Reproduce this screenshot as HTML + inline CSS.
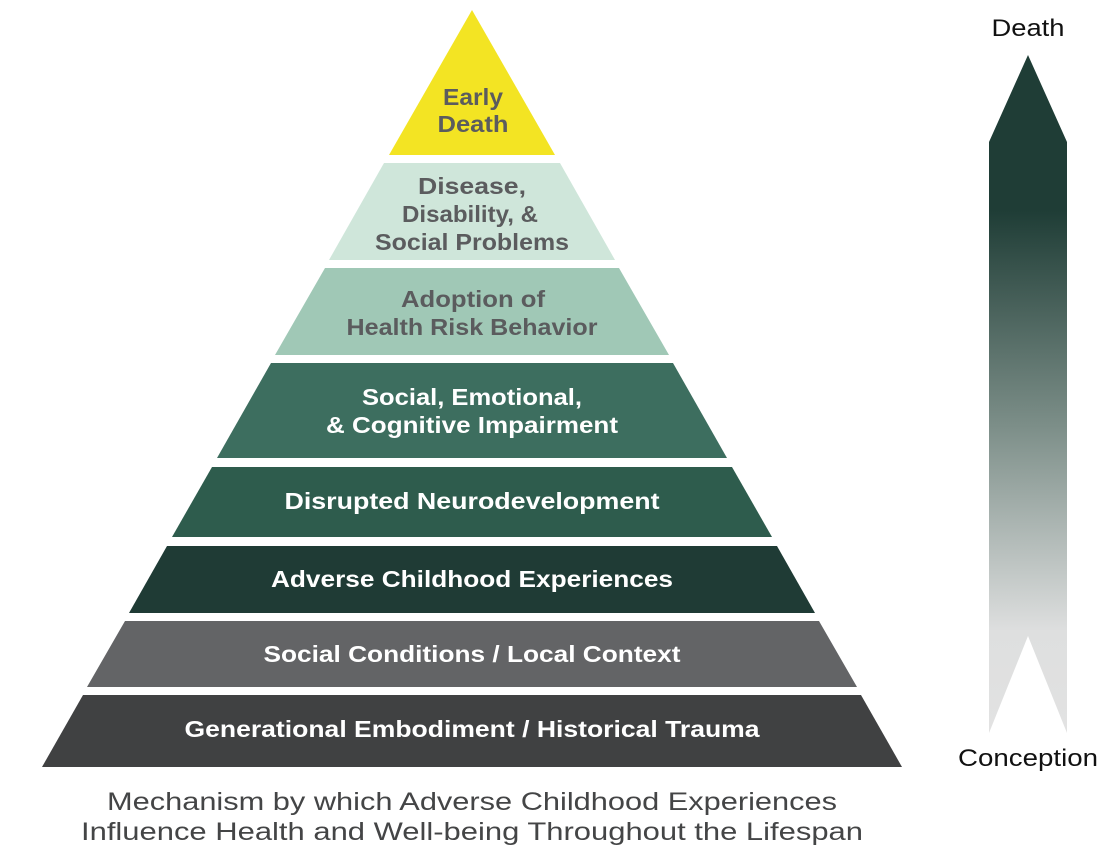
<!DOCTYPE html>
<html><head><meta charset="utf-8"><style>
html,body{margin:0;padding:0;background:#fff;}
svg{display:block;}
.t{font-family:"Liberation Sans",sans-serif;font-weight:bold;font-size:23px;text-anchor:middle;}
.g{fill:#5b5c5e;}
.w{fill:#ffffff;}
</style></head><body>
<svg width="1114" height="850" viewBox="0 0 1114 850">
<defs>
<linearGradient id="ag" x1="0" y1="0" x2="0" y2="1" gradientUnits="objectBoundingBox">
<stop offset="0" stop-color="#1f3d36"/>
<stop offset="0.23" stop-color="#1f3d36"/>
<stop offset="0.55" stop-color="#7d8f89"/>
<stop offset="0.85" stop-color="#dedfdf"/>
<stop offset="1" stop-color="#e2e2e2"/>
</linearGradient>
</defs>
<polygon points="472,10 389,155 555,155" fill="#f3e423"/>
<polygon points="384,163 560,163 615,260 329,260" fill="#cfe6da"/>
<polygon points="325,268 619,268 669,355 275,355" fill="#a0c8b6"/>
<polygon points="271,363 673,363 727,458 217,458" fill="#3d6e5f"/>
<polygon points="212,467 732,467 772,537 172,537" fill="#2e5c4d"/>
<polygon points="167,546 777,546 815,613 129,613" fill="#1f3b35"/>
<polygon points="125,621 819,621 857,687 87,687" fill="#636466"/>
<polygon points="83,695 861,695 902,767 42,767" fill="#404142"/>

<text class="t g" x="473" y="105" textLength="60" lengthAdjust="spacingAndGlyphs">Early</text>
<text class="t g" x="473" y="132" textLength="71" lengthAdjust="spacingAndGlyphs">Death</text>
<text class="t g" x="472" y="194" textLength="108" lengthAdjust="spacingAndGlyphs">Disease,</text>
<text class="t g" x="470" y="222" textLength="136" lengthAdjust="spacingAndGlyphs">Disability, &amp;</text>
<text class="t g" x="472" y="250" textLength="194" lengthAdjust="spacingAndGlyphs">Social Problems</text>
<text class="t g" x="473" y="307" textLength="144" lengthAdjust="spacingAndGlyphs">Adoption of</text>
<text class="t g" x="472" y="335" textLength="251" lengthAdjust="spacingAndGlyphs">Health Risk Behavior</text>
<text class="t w" x="472" y="405" textLength="220" lengthAdjust="spacingAndGlyphs">Social, Emotional,</text>
<text class="t w" x="472" y="433" textLength="292" lengthAdjust="spacingAndGlyphs">&amp; Cognitive Impairment</text>
<text class="t w" x="472" y="509" textLength="375" lengthAdjust="spacingAndGlyphs">Disrupted Neurodevelopment</text>
<text class="t w" x="472" y="587" textLength="402" lengthAdjust="spacingAndGlyphs">Adverse Childhood Experiences</text>
<text class="t w" x="472" y="662" textLength="417" lengthAdjust="spacingAndGlyphs">Social Conditions / Local Context</text>
<text class="t w" x="472" y="737" textLength="575" lengthAdjust="spacingAndGlyphs">Generational Embodiment / Historical Trauma</text>

<text x="472" y="810" font-family="Liberation Sans, sans-serif" font-size="25" fill="#444546" text-anchor="middle" textLength="730" lengthAdjust="spacingAndGlyphs">Mechanism by which Adverse Childhood Experiences</text>
<text x="472" y="840" font-family="Liberation Sans, sans-serif" font-size="25" fill="#444546" text-anchor="middle" textLength="782" lengthAdjust="spacingAndGlyphs">Influence Health and Well-being Throughout the Lifespan</text>

<polygon points="1028,55 1067,142 1067,733 1028,636 989,733 989,142" fill="url(#ag)"/>
<text x="1028" y="36" font-family="Liberation Sans, sans-serif" font-size="24" fill="#111" text-anchor="middle" textLength="73" lengthAdjust="spacingAndGlyphs">Death</text>
<text x="1028" y="766" font-family="Liberation Sans, sans-serif" font-size="24" fill="#111" text-anchor="middle" textLength="140" lengthAdjust="spacingAndGlyphs">Conception</text>
</svg>
</body></html>
